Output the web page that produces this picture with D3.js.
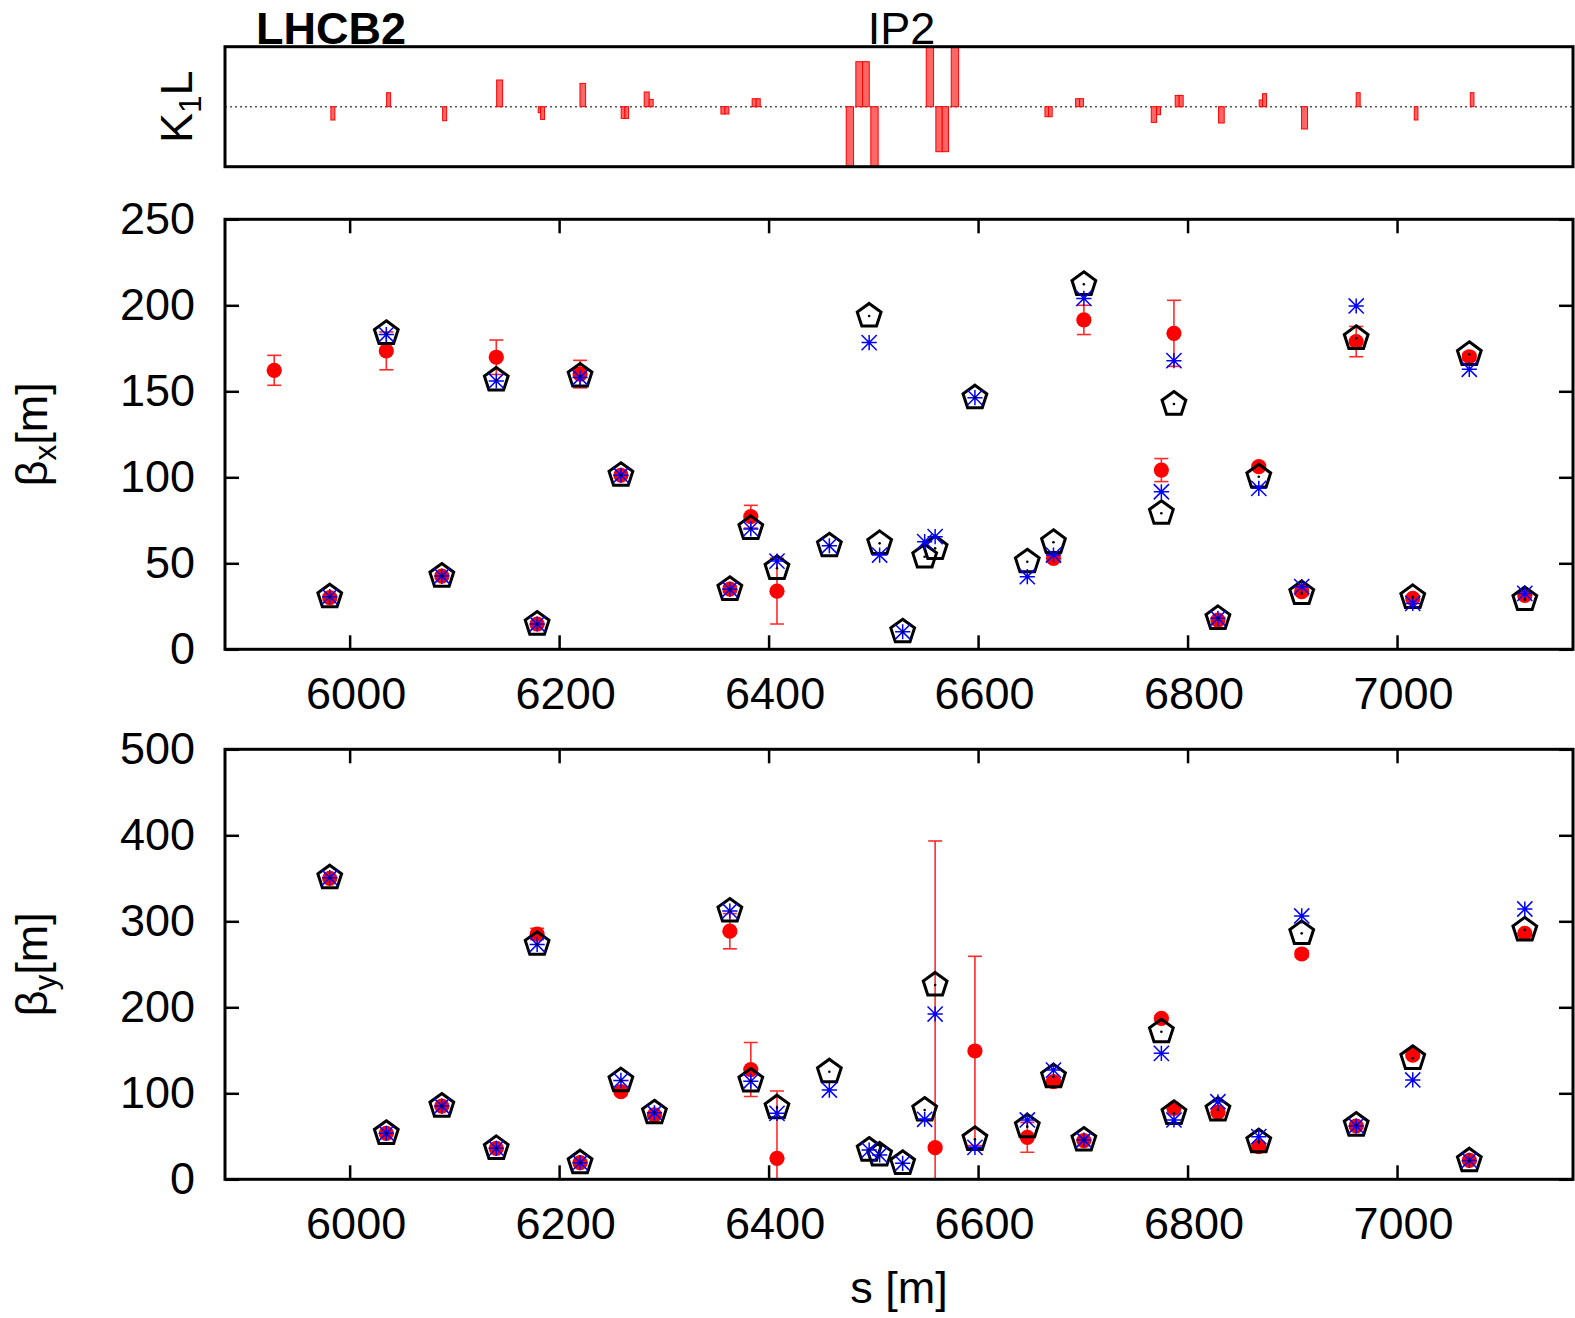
<!DOCTYPE html>
<html>
<head>
<meta charset="utf-8">
<script src="https://d3js.org/d3.v7.min.js"></script>
<style>
  body { margin: 0; background: #fff; }
  svg text { font-family: "Liberation Sans", Arial, sans-serif; fill: #000; }
</style>
</head>
<body>
<svg id="chart" width="1575" height="1318"></svg>
<script>
// BPM positions along the ring, s [m]
const sPos = [5928, 5981, 6035, 6088, 6140, 6179, 6220, 6259, 6291, 6363, 6383, 6408, 6458, 6496, 6506,
  6528, 6549, 6559, 6597, 6647, 6672, 6701, 6775, 6787, 6829, 6868, 6909, 6961, 7015, 7069, 7122];

// beta_x : model (pentagon), second estimate (blue star), measurement (red) with error
const betxModel = [null, 30.6, 183.7, 42.6, 156.6, 14.7, 158.9, 101.2, null, 34.9, 70.3, 47.1, 60.2, 193.8, 61.6,
  10.2, 53.8, 58.7, 146.3, 50.9, 62.2, 212.2, 79.1, 142.6, 18.0, 100.3, 32.5, 180.8, 30.2, 171.5, 29.0];
const betxStar = [null, 30.6, 183.0, 42.6, 156.0, 14.7, 158.0, 101.2, null, 34.9, 70.0, 51.3, 60.2, 178.3, 54.8,
  10.2, 62.6, 65.5, 146.3, 42.2, 54.8, 204.0, 91.6, 167.8, 18.0, 93.6, 36.4, 199.6, 26.7, 162.8, 32.5];
const betxMeas = [162.2, 30.0, 173.5, 42.6, 169.8, 14.7, 160.0, 101.2, null, 35.0, 77.1, 33.8, null, null, null,
  null, null, null, null, null, 52.9, 191.5, 104.2, 183.7, 17.0, 106.2, 33.5, 178.9, 29.6, 170.1, 31.3];
const betxErr = [8.7, 1.5, 11.0, 1.5, 10.0, 1.0, 8.0, 1.5, null, 2.0, 6.6, 19.1, null, null, null,
  null, null, null, null, null, 2.0, 8.5, 6.7, 19.2, 1.5, 1.5, 2.0, 8.8, 1.5, 2.0, 1.5];

// beta_y
const betyModel = [null, 350.7, 53.5, 85.2, 36.0, 273.3, 19.3, 114.7, 77.4, 312.0, 114.3, 83.3, 125.1, 34.0, 28.3,
  18.6, 80.6, 226.0, 46.5, 61.2, 119.3, 45.7, 171.6, 76.7, 80.6, 43.7, 286.0, 63.1, 140.7, 21.6, 290.0];
const betyStar = [null, 350.7, 53.5, 85.2, 36.0, 273.0, 19.3, 115.0, 77.4, 312.0, 114.0, 76.7, 103.8, 34.0, 28.3,
  18.6, 69.8, 192.2, 37.2, 69.0, 127.0, 45.7, 146.5, 69.0, 90.2, 49.6, 306.2, 62.0, 115.5, 22.0, 314.3];
const betyMeas = [null, 350.0, 53.5, 85.0, 36.0, 285.2, 19.3, 101.9, 75.0, 288.5, 127.6, 24.4, null, null, null,
  null, null, 36.8, 149.2, 48.8, 113.5, 45.0, 187.2, 82.5, 78.0, 37.9, 262.0, 62.0, 144.5, 22.0, 286.0];
const betyErr = [null, 2, 2, 2, 2, 6.6, 2, 2, 2, 20.5, 31.4, 78.3, null, null, null,
  null, null, 356.6, 110.1, 17.4, 3, 2, 3, 3, 3, 3, 4, 2, 3, 2, 3];

// quadrupole strengths K1L (arbitrary units), element centre and length [m]
const k1lPos = [5984.0, 6037.2, 6090.7, 6143.2, 6181.2, 6184.2, 6222.6, 6261.0, 6264.6, 6283.6, 6287.9, 6356.4, 6360.2,
  6386.2, 6390.1, 6477.6, 6486.5, 6492.9, 6501.1, 6554.0, 6562.7, 6568.8, 6577.9, 6665.6, 6669.0, 6695.0, 6698.8,
  6767.9, 6772.3, 6790.1, 6793.9, 6832.3, 6870.0, 6873.5, 6911.7, 6962.9, 7018.2, 7071.7];
const k1lLen = [3.8, 3.8, 3.8, 5.7, 2.3, 3.8, 5.4, 3.5, 3.5, 4.8, 3.8, 3.8, 3.8,
  3.8, 3.8, 7.0, 6.4, 6.4, 7.0, 7.0, 6.0, 6.0, 7.0, 3.5, 3.5, 3.8, 3.8,
  5.1, 3.8, 3.8, 3.8, 5.4, 3.2, 3.8, 5.7, 3.8, 3.5, 3.5];
const k1lVal = [-1.33, 1.4, -1.4, 2.67, -0.6, -1.27, 2.33, -1.17, -1.17, 1.47, 0.73, -0.73, -0.73,
  0.8, 0.8, -7.5, 4.5, 4.5, -7.5, 7.5, -4.5, -4.5, 7.5, -1.0, -1.0, 0.8, 0.8,
  -1.57, -0.8, 1.13, 1.13, -1.63, 0.67, 1.3, -2.23, 1.4, -1.33, 1.4];

const xTicks = [6000, 6200, 6400, 6600, 6800, 7000];
const betxTicks = [0, 50, 100, 150, 200, 250];
const betyTicks = [0, 100, 200, 300, 400, 500];
const ipLabel = { name: "IP2", s: 6527 };

const svg = d3.select("#chart");
const left = 225, right = 1573;
const FS = 45;

const x = d3.scaleLinear().domain([5881, 7168]).range([left, right]);
const yK = d3.scaleLinear().domain([-6, 6]).range([166.7, 46.7]);
const yBx = d3.scaleLinear().domain([0, 250]).range([649.3, 219.3]);
const yBy = d3.scaleLinear().domain([0, 500]).range([1179.3, 749.3]);

const defs = svg.append("defs");
function clip(id, y) {
  defs.append("clipPath").attr("id", id).append("rect")
    .attr("x", left).attr("y", y.range()[1])
    .attr("width", right - left).attr("height", y.range()[0] - y.range()[1]);
}
clip("cK", yK); clip("cBx", yBx); clip("cBy", yBy);

// ---------- K1L panel ----------
const gK = svg.append("g");
gK.append("line")
  .attr("x1", left).attr("x2", right)
  .attr("y1", yK(0)).attr("y2", yK(0))
  .attr("stroke", "#555").attr("stroke-width", 1.6)
  .attr("stroke-dasharray", "2,3");

gK.append("g").attr("clip-path", "url(#cK)")
  .selectAll("rect").data(k1lPos).join("rect")
  .attr("x", (d, i) => x(d - k1lLen[i] / 2))
  .attr("width", (d, i) => x(d + k1lLen[i] / 2) - x(d - k1lLen[i] / 2))
  .attr("y", (d, i) => Math.min(yK(k1lVal[i]), yK(0)))
  .attr("height", (d, i) => Math.abs(yK(k1lVal[i]) - yK(0)))
  .attr("fill", "#ff6666").attr("stroke", "#ff0000").attr("stroke-width", 1);

gK.append("rect")
  .attr("x", left).attr("y", yK.range()[1])
  .attr("width", right - left).attr("height", yK.range()[0] - yK.range()[1])
  .attr("fill", "none").attr("stroke", "#000").attr("stroke-width", 3);

svg.append("text").attr("x", 256).attr("y", 44)
  .attr("font-size", FS).attr("font-weight", "bold").text("LHCB2");
svg.append("text").attr("x", x(ipLabel.s)).attr("y", 44)
  .attr("text-anchor", "middle").attr("font-size", FS).text(ipLabel.name);

const kLab = svg.append("text")
  .attr("transform", `translate(192,${yK(0)}) rotate(-90)`)
  .attr("text-anchor", "middle").attr("font-size", FS);
kLab.append("tspan").text("K");
kLab.append("tspan").attr("font-size", FS * 0.7).attr("dy", 9).text("1");
kLab.append("tspan").attr("dy", -9).text("L");

// ---------- beta panels ----------
function pentagon(r) {
  return d3.range(5).map(k => {
    const a = (-90 + 72 * k) * Math.PI / 180;
    return [r * Math.cos(a), r * Math.sin(a)];
  });
}
const pentaPath = "M" + pentagon(12.5).map(p => p.join(",")).join("L") + "Z";
const st = 7.6;
const starPath = `M${-st},0H${st}M0,${-st}V${st}M${-st},${-st}L${st},${st}M${-st},${st}L${st},${-st}`;

function panel(y, ticks, clipId, model, star, meas, err, sub) {
  const g = svg.append("g");

  // axes (labels + inner ticks)
  const ax = g.append("g").attr("transform", `translate(0,${y.range()[0]})`)
    .call(d3.axisBottom(x).tickValues(xTicks).tickSize(-14).tickSizeOuter(0).tickPadding(28).tickFormat(d3.format("d")));
  ax.selectAll("text").attr("x", 6);
  g.append("g").attr("transform", `translate(0,${y.range()[1]})`)
    .call(d3.axisTop(x).tickValues(xTicks).tickSize(-14).tickSizeOuter(0).tickFormat(""));
  g.append("g").attr("transform", `translate(${left},0)`)
    .call(d3.axisLeft(y).tickValues(ticks).tickSize(-14).tickSizeOuter(0).tickPadding(30));
  g.append("g").attr("transform", `translate(${right},0)`)
    .call(d3.axisRight(y).tickValues(ticks).tickSize(-14).tickSizeOuter(0).tickFormat(""));
  g.selectAll(".domain").remove();
  g.selectAll(".tick line").attr("stroke", "#000").attr("stroke-width", 2.5);
  g.selectAll(".tick text").attr("font-size", FS)
    .attr("font-family", "'Liberation Sans', Arial, sans-serif").attr("fill", "#000");

  const pts = sPos.map((s, i) => ({ s, m: model[i], t: star[i], v: meas[i], e: err[i] }));
  const inner = g.append("g").attr("clip-path", `url(#${clipId})`);

  // measurement with error bars
  const ms = pts.filter(d => d.v !== null);
  const eb = inner.append("g").attr("stroke", "#ff2a2a").attr("stroke-width", 1.6);
  eb.selectAll("line.v").data(ms).join("line").attr("class", "v")
    .attr("x1", d => x(d.s)).attr("x2", d => x(d.s))
    .attr("y1", d => y(d.v - d.e)).attr("y2", d => y(d.v + d.e));
  eb.selectAll("line.t").data(ms).join("line").attr("class", "t")
    .attr("x1", d => x(d.s) - 7).attr("x2", d => x(d.s) + 7)
    .attr("y1", d => y(d.v + d.e)).attr("y2", d => y(d.v + d.e));
  eb.selectAll("line.b").data(ms).join("line").attr("class", "b")
    .attr("x1", d => x(d.s) - 7).attr("x2", d => x(d.s) + 7)
    .attr("y1", d => y(d.v - d.e)).attr("y2", d => y(d.v - d.e));
  inner.selectAll("circle.meas").data(ms).join("circle").attr("class", "meas")
    .attr("cx", d => x(d.s)).attr("cy", d => y(d.v)).attr("r", 7.6).attr("fill", "#ff0000");

  // model pentagons
  const md = pts.filter(d => d.m !== null);
  inner.selectAll("path.model").data(md).join("path").attr("class", "model")
    .attr("transform", d => `translate(${x(d.s)},${y(d.m)})`)
    .attr("d", pentaPath).attr("fill", "none").attr("stroke", "#000")
    .attr("stroke-width", 3).attr("stroke-linejoin", "miter");

  // blue stars
  const sd = pts.filter(d => d.t !== null);
  inner.selectAll("path.star").data(sd).join("path").attr("class", "star")
    .attr("transform", d => `translate(${x(d.s)},${y(d.t)})`)
    .attr("d", starPath).attr("fill", "none").attr("stroke", "#0000ff").attr("stroke-width", 1.5);

  inner.selectAll("circle.dot").data(md).join("circle").attr("class", "dot")
    .attr("cx", d => x(d.s)).attr("cy", d => y(d.m)).attr("r", 1.3).attr("fill", "#000");

  // frame
  g.append("rect")
    .attr("x", left).attr("y", y.range()[1])
    .attr("width", right - left).attr("height", y.range()[0] - y.range()[1])
    .attr("fill", "none").attr("stroke", "#000").attr("stroke-width", 3);

  // y label
  const cy = (y.range()[0] + y.range()[1]) / 2;
  const lab = svg.append("text")
    .attr("transform", `translate(47,${cy}) rotate(-90)`)
    .attr("text-anchor", "middle").attr("font-size", FS);
  lab.append("tspan").text("\u03b2");
  lab.append("tspan").attr("font-size", FS * 0.7).attr("dy", 9).text(sub);
  lab.append("tspan").attr("dy", -9).text("[m]");
}

panel(yBx, betxTicks, "cBx", betxModel, betxStar, betxMeas, betxErr, "x");
panel(yBy, betyTicks, "cBy", betyModel, betyStar, betyMeas, betyErr, "y");

svg.append("text").attr("x", (left + right) / 2).attr("y", 1303)
  .attr("text-anchor", "middle").attr("font-size", FS).text("s [m]");
</script>
</body>
</html>
